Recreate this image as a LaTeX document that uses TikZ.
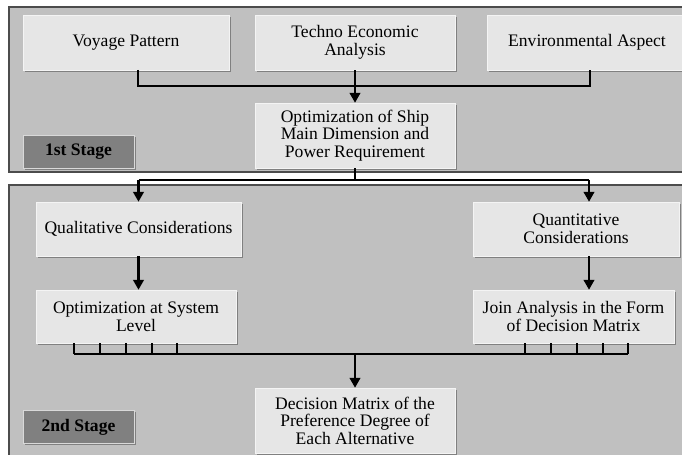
\documentclass[tikz,border=0pt]{standalone}
\usepackage{fontspec}
\setmainfont{Liberation Serif}
\usepackage{tikz}
\usetikzlibrary{arrows.meta,shadows}
\definecolor{panel}{HTML}{C0C0C0}
\definecolor{boxfill}{HTML}{E6E6E6}
\definecolor{edge}{HTML}{F4F4F4}
\definecolor{tag}{HTML}{808080}

\begin{document}
\begin{tikzpicture}[
  x=0.03cm, y=-0.03cm,
  frame/.style={draw=black!70, fill=panel, line width=1.2pt},
  box/.style={draw=edge, fill=boxfill, align=center, inner sep=2pt,
              font=\fontsize{15}{15}\selectfont,
              drop shadow={shadow xshift=1.6pt, shadow yshift=-1.6pt, fill=black!50, opacity=1}},
  stagetag/.style={box, fill=tag, draw=black!15, font=\fontsize{15}{15}\selectfont\bfseries,
                   minimum width=3.33cm, minimum height=0.99cm},
  link/.style={draw=black, line width=1.1pt},
  route/.style={draw=black, line width=2pt, -{Triangle[length=8.5pt,width=9pt]}}
]
\useasboundingbox (0,0) rectangle (682,455);
\fill[white] (0,0) rectangle (682,455);

% stage panels
\draw[frame] (9,7) rectangle (700,172);
\draw[frame] (9,185) rectangle (700,475);

% 1st stage
\node[box, minimum width=6.18cm, minimum height=1.65cm] (voyage) at (126,42.5) {Voyage Pattern};
\node[box, minimum width=6.0cm, minimum height=1.65cm] (techno) at (355,42.5) {Techno Economic\\Analysis};
\node[box, minimum width=6.0cm, minimum height=1.65cm] (enviro) at (587,42.5) {Environmental Aspect};
\node[box, minimum width=6.0cm, minimum height=1.95cm] (shipopt) at (355,135.5) {Optimization of Ship\\Main Dimension and\\Power Requirement};
\node[stagetag] (stage1) at (78.5,151.5) {1st Stage};

% 2nd stage
\node[box, minimum width=6.15cm, minimum height=1.62cm] (quali) at (138.5,229) {Qualitative Considerations};
\node[box, minimum width=6.18cm, minimum height=1.62cm] (quanti) at (576,229) {Quantitative\\Considerations};
\node[box, minimum width=6.0cm, minimum height=1.59cm] (sysopt) at (136,316.5) {Optimization at System\\Level};
\node[box, minimum width=6.03cm, minimum height=1.59cm] (joint) at (573.5,316.5) {Join Analysis in the Form\\of Decision Matrix};
\node[box, minimum width=6.0cm, minimum height=1.95cm] (decide) at (355,420.5) {Decision Matrix of the\\Preference Degree of\\Each Alternative};
\node[stagetag] (stage2) at (78.5,427) {2nd Stage};

% helper points
\coordinate (vdrop) at (138,70);
\coordinate (edrop) at (590,70);
\coordinate (qsplit) at (589,180);
\coordinate (mergeL) at (74,354);
\coordinate (mergeR) at (628,354);

% connectors, 1st stage
\draw[link] (vdrop) |- (edrop |- 0,86) -- (edrop);
\draw[route] (techno) -- (shipopt);

% split into 2nd stage
\draw[link] (shipopt.south) -- (shipopt.south |- qsplit);
\draw[route] (quali.north |- qsplit) -- (quali.north);
\draw[link] (quali.north |- qsplit) -- (qsplit);
\draw[route] (qsplit) -- (qsplit |- quanti.north);
\draw[route] (quali) -- (sysopt.north -| quali);
\draw[route] (qsplit |- quanti.south) -- (qsplit |- joint.north);

% merge comb
\draw[link] (mergeL) -- (mergeR);
\foreach \tx in {74,100,126,152,177}
  \draw[link] (\tx,343) -- (\tx,354);
\foreach \tx in {525,551,577,603,628}
  \draw[link] (\tx,343) -- (\tx,354);
\draw[route] (decide.north |- mergeL) -- (decide.north);
\end{tikzpicture}
\end{document}
